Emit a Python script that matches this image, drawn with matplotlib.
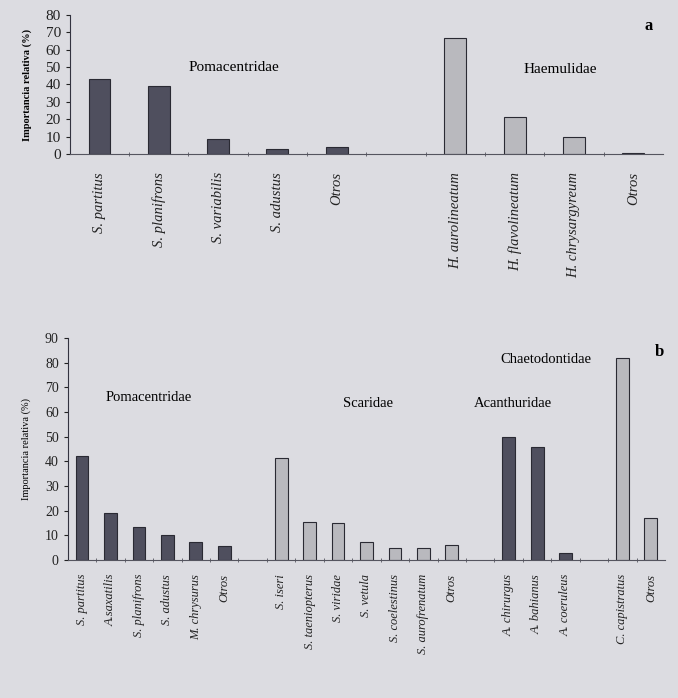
import matplotlib.pyplot as plt
import numpy as np

# ---- datos panel a ----
grupos_a = ['Pomacentridae', 'Haemulidae']
especies_a = [['S. partitus', 'S. planifrons', 'S. variabilis', 'S. adustus', 'Otros'],
              ['H. aurolineatum', 'H. flavolineatum', 'H. chrysargyreum', 'Otros']]
valores_a = [[43, 39, 8.6, 3, 4],
             [67, 21, 10, 0.8]]
tonos_a = ['oscuro', 'claro']

# ---- datos panel b ----
grupos_b = ['Pomacentridae', 'Scaridae', 'Acanthuridae', 'Chaetodontidae']
especies_b = [['S. partitus', 'A.saxatilis', 'S. planifrons', 'S. adustus', 'M. chrysurus', 'Otros'],
              ['S. iseri', 'S. taeniopterus', 'S. viridae', 'S. vetula', 'S. coelestinus',
               'S. aurofrenatum', 'Otros'],
              ['A. chirurgus', 'A. bahianus', 'A. coeruleus'],
              ['C. capistratus', 'Otros']]
valores_b = [[42, 19, 13.4, 10, 7.3, 5.5],
             [41.3, 15.4, 15, 7.3, 5, 5, 6],
             [49.8, 45.7, 2.7],
             [81.8, 17]]
tonos_b = ['oscuro', 'claro', 'oscuro', 'claro']

fondo = '#dcdce1'
colores = {'oscuro': '#4f4f5e', 'claro': '#b9b9be'}
serif = 'Liberation Serif'


def posiciones(especies):
    # un hueco vacio entre familias
    pos, x = [], 0
    for g in especies:
        pos.append(list(range(x, x + len(g))))
        x += len(g) + 1
    return pos, x - 1


def panel(ax, especies, valores, tonos, ancho, ymax, paso, fs_lab, fs_tick, pad):
    pos, n = posiciones(especies)
    etiquetas, xs = [], []
    for p, v, t, e in zip(pos, valores, tonos, especies):
        ax.bar(p, v, width=ancho, color=colores[t], edgecolor='#2a2a33', linewidth=0.8)
        xs += p
        etiquetas += e
    ax.set_xlim(-0.5, n - 0.5)
    ax.set_ylim(0, ymax)
    ax.set_facecolor(fondo)
    for s in ['top', 'right']:
        ax.spines[s].set_visible(False)
    ax.spines['left'].set_color('#333340')
    ax.spines['bottom'].set_color('#55555f')
    ax.set_yticks(np.arange(0, ymax + 1, paso))
    ax.tick_params(axis='y', labelsize=fs_tick, length=3, colors='#222')
    for l in ax.get_yticklabels():
        l.set_family(serif)
    ax.set_xticks(np.arange(0.5, n - 0.5, 1), minor=True)
    ax.tick_params(axis='x', which='minor', length=3, color='#55555f', direction='inout')
    ax.set_xticks(xs)
    ax.set_xticklabels(etiquetas, rotation=90, family=serif, style='italic',
                       fontsize=fs_lab, color='#222')
    ax.tick_params(axis='x', which='major', length=0, pad=pad)


fig = plt.figure(figsize=(6.78, 6.98), dpi=100, facecolor=fondo)

ax1 = fig.add_axes([0.103, 0.7794, 0.875, 0.1991])
panel(ax1, especies_a, valores_a, tonos_a, 0.37, 80, 10, 10.5, 11, 13)
ax1.set_ylabel('Importancia relativa (%)', family=serif, fontweight='bold', fontsize=7.5, labelpad=10)
ax1.text(0.2, 0.62, grupos_a[0], transform=ax1.transAxes, family=serif, fontsize=11, va='center')
ax1.text(0.764, 0.61, grupos_a[1], transform=ax1.transAxes, family=serif, fontsize=11, va='center')
ax1.text(0.975, 0.92, 'a', transform=ax1.transAxes, family=serif, fontsize=12, fontweight='bold',
         va='center', ha='center')

ax2 = fig.add_axes([0.100, 0.1977, 0.881, 0.3181])
panel(ax2, especies_b, valores_b, tonos_b, 0.45, 90, 10, 9, 10, 10)
ax2.set_ylabel('Importancia relativa (%)', family=serif, fontsize=7.5, labelpad=10)
ax2.text(0.063, 0.73, grupos_b[0], transform=ax2.transAxes, family=serif, fontsize=10.5, va='center')
ax2.text(0.46, 0.705, grupos_b[1], transform=ax2.transAxes, family=serif, fontsize=10.5, va='center')
ax2.text(0.68, 0.705, grupos_b[2], transform=ax2.transAxes, family=serif, fontsize=10.5, va='center')
ax2.text(0.725, 0.905, grupos_b[3], transform=ax2.transAxes, family=serif, fontsize=10.5, va='center')
ax2.text(0.99, 0.935, 'b', transform=ax2.transAxes, family=serif, fontsize=12, fontweight='bold',
         va='center', ha='center')

fig.savefig('out.png', dpi=100, facecolor=fondo)
